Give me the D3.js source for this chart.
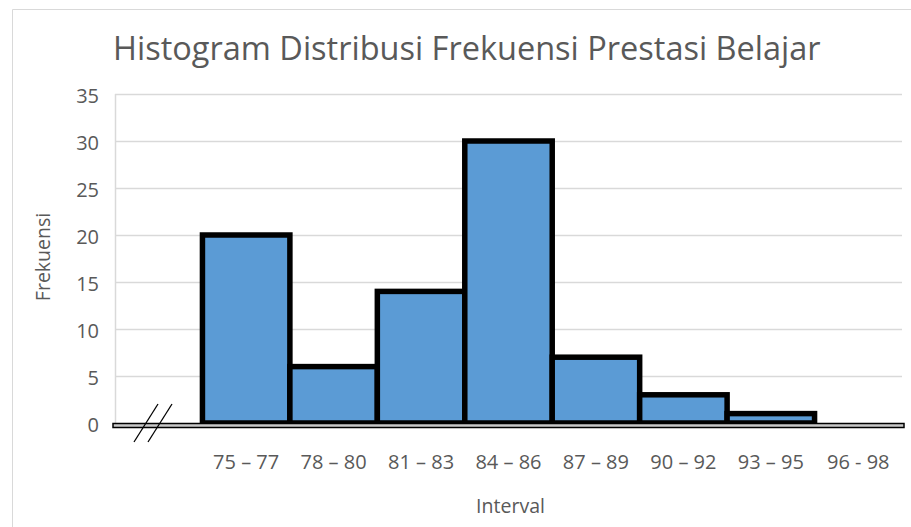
<!DOCTYPE html>
<html>
<head>
<meta charset="utf-8">
<script src="https://cdn.jsdelivr.net/npm/d3@7"></script>
<style>
  body { margin: 0; background: #fff; }
  text { font-family: "Open Sans", "Noto Sans", sans-serif; fill: #595959; }
</style>
</head>
<body>
<div id="chart"></div>
<script>
// data
const intervals = ["", "75 \u2013 77", "78 \u2013 80", "81 \u2013 83", "84 \u2013 86", "87 \u2013 89", "90 \u2013 92", "93 \u2013 95", "96 - 98"];
const frekuensi = [null, 20, 6, 14, 30, 7, 3, 1, 0];
const yTicks = [0, 5, 10, 15, 20, 25, 30, 35];

const width = 911, height = 527;
const margin = {top: 94, right: 9, bottom: 104, left: 115};

const svg = d3.select("#chart").append("svg")
  .attr("width", width)
  .attr("height", height);

// chart border (only left and top visible)
svg.append("path")
  .attr("d", "M12.5," + height + " V9.5 H" + width)
  .attr("fill", "none")
  .attr("stroke", "#d9d9d9")
  .attr("stroke-width", 1);

const x = d3.scaleBand()
  .domain(intervals)
  .range([margin.left, width - margin.right])
  .padding(0);

const y = d3.scaleLinear()
  .domain([0, 35])
  .range([height - margin.bottom, margin.top]);

// gridlines
svg.append("g")
  .selectAll("line")
  .data(yTicks.filter(d => d > 0))
  .enter().append("line")
  .attr("x1", margin.left)
  .attr("x2", width - margin.right)
  .attr("y1", d => Math.round(y(d)) + 0.5)
  .attr("y2", d => Math.round(y(d)) + 0.5)
  .attr("stroke", "#d9d9d9")
  .attr("stroke-width", 1.5);

// vertical axis line
svg.append("line")
  .attr("x1", margin.left + 0.5).attr("x2", margin.left + 0.5)
  .attr("y1", y(35)).attr("y2", y(0))
  .attr("stroke", "#d9d9d9")
  .attr("stroke-width", 1.5);

// y tick labels
svg.append("g")
  .selectAll("text")
  .data(yTicks)
  .enter().append("text")
  .attr("x", 99)
  .attr("y", d => y(d) + 2)
  .attr("dy", "0.35em")
  .attr("text-anchor", "end")
  .style("font-size", "20px")
  .text(d => d);

// bars
svg.append("g")
  .selectAll("rect")
  .data(intervals.map((k, i) => ({k: k, v: frekuensi[i]})).filter(d => d.v !== null))
  .enter().append("rect")
  .attr("x", d => x(d.k))
  .attr("width", x.bandwidth())
  .attr("y", d => y(d.v))
  .attr("height", d => y(0) - y(d.v))
  .attr("fill", "#5b9bd5")
  .attr("stroke", "#000")
  .attr("stroke-width", 5.5);

// base axis (double line)
svg.append("rect")
  .attr("x", 113)
  .attr("y", y(0) + 0.5)
  .attr("width", 791)
  .attr("height", 4)
  .attr("fill", "#c8c8c8")
  .attr("stroke", "#000")
  .attr("stroke-width", 1.5);

// axis break marks
svg.append("g")
  .selectAll("line")
  .data([0, 14])
  .enter().append("line")
  .attr("x1", d => 158 + d).attr("y1", y(0) - 19)
  .attr("x2", d => 134 + d).attr("y2", y(0) + 19)
  .attr("stroke", "#000")
  .attr("stroke-width", 1.3);

// x tick labels
svg.append("g")
  .selectAll("text")
  .data(intervals.filter(d => d !== ""))
  .enter().append("text")
  .attr("x", d => x(d) + x.bandwidth() / 2)
  .attr("y", 469)
  .attr("text-anchor", "middle")
  .style("font-size", "20px")
  .text(d => d);

// title
svg.append("text")
  .attr("x", 113)
  .attr("y", 60)
  .style("font-size", "32.5px")
  .text("Histogram Distribusi Frekuensi Prestasi Belajar");

// axis titles
svg.append("text")
  .attr("x", (margin.left + width - margin.right) / 2 + 2)
  .attr("y", 513)
  .attr("text-anchor", "middle")
  .style("font-size", "19.5px")
  .text("Interval");

svg.append("text")
  .attr("transform", "translate(50," + 257 + ") rotate(-90)")
  .attr("text-anchor", "middle")
  .style("font-size", "19.5px")
  .text("Frekuensi");
</script>
</body>
</html>
